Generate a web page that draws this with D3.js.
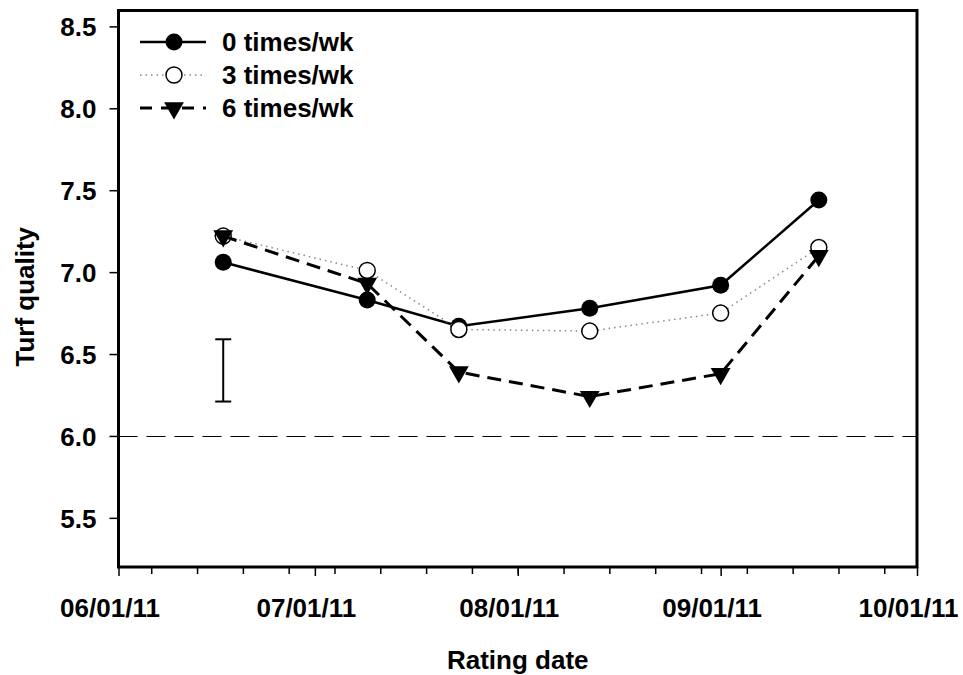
<!DOCTYPE html>
<html>
<head>
<meta charset="utf-8">
<script src="https://cdn.jsdelivr.net/npm/d3@7"></script>
<style>
  body { margin: 0; background: #fff; }
  text { font-family: "Liberation Sans", Arial, sans-serif; font-weight: bold; fill: #000; }
</style>
</head>
<body>
<svg width="963" height="675"></svg>
<script>
const svg = d3.select("svg");

// data
const dates = ["2011-06-17", "2011-07-09", "2011-07-23", "2011-08-12", "2011-09-01", "2011-09-16"];
const times0 = [7.06, 6.83, 6.67, 6.78, 6.92, 7.44];
const times3 = [7.22, 7.01, 6.65, 6.64, 6.75, 7.15];
const times6 = [7.22, 6.93, 6.39, 6.24, 6.38, 7.10];
const seriesNames = ["0 times/wk", "3 times/wk", "6 times/wk"];
const monthTicks = ["2011-06-01", "2011-07-01", "2011-08-01", "2011-09-01", "2011-10-01"];
const yTicks = [5.5, 6.0, 6.5, 7.0, 7.5, 8.0, 8.5];
const lsd = { date: "2011-06-17", low: 6.21, high: 6.59 };
const refLine = 6.0;

const parse = d3.utcParse("%Y-%m-%d");
const fmt = d3.utcFormat("%m/%d/%y");

const pLeft = 118.5, pRight = 917, pTop = 10.5, pBottom = 567;
const fs = 26;

const x = d3.scaleUtc()
    .domain([parse("2011-06-01"), parse("2011-10-01")])
    .range([pLeft, pRight]);
const y = d3.scaleLinear()
    .domain([5.2, 8.6])
    .range([pBottom, pTop - 0.5]);

// dashed reference line
const ry = Math.round(y(refLine)) + 0.5;
svg.append("line")
    .attr("x1", pLeft).attr("x2", pRight)
    .attr("y1", ry).attr("y2", ry)
    .attr("stroke", "#000").attr("stroke-width", 1)
    .attr("stroke-dasharray", "19,9");

// x axis: weekly minor ticks (Mondays), monthly majors
const minor = d3.utcMonday.range(parse("2011-06-01"), parse("2011-10-01"));
svg.append("g")
    .attr("transform", `translate(0,${pBottom})`)
    .call(d3.axisBottom(x).tickValues(minor).tickSize(7).tickSizeOuter(0).tickFormat(""))
    .call(g => g.select(".domain").remove())
    .call(g => g.selectAll("line").attr("stroke-width", 1.5));

svg.append("g")
    .attr("transform", `translate(0,${pBottom})`)
    .call(d3.axisBottom(x).tickValues(monthTicks.map(parse)).tickSize(9).tickSizeOuter(0).tickFormat(fmt))
    .call(g => g.select(".domain").remove())
    .call(g => g.selectAll("line").attr("stroke-width", 1.5))
    .call(g => g.selectAll("text")
        .attr("font-size", fs).attr("font-family", "Liberation Sans, Arial, sans-serif")
        .attr("font-weight", "bold").attr("fill", "#000")
        .attr("dx", -9).attr("y", 50).attr("dy", 0));

// y axis
svg.append("g")
    .attr("transform", `translate(${pLeft},0)`)
    .call(d3.axisLeft(y).tickValues(yTicks).tickSize(9).tickSizeOuter(0).tickFormat(d3.format(".1f")))
    .call(g => g.select(".domain").remove())
    .call(g => g.selectAll("line").attr("stroke-width", 1.5))
    .call(g => g.selectAll("text")
        .attr("font-size", fs).attr("font-family", "Liberation Sans, Arial, sans-serif")
        .attr("font-weight", "bold").attr("fill", "#000")
        .attr("x", -22).attr("dy", "0.36em"));

// frame
svg.append("rect")
    .attr("x", pLeft).attr("y", pTop)
    .attr("width", pRight - pLeft).attr("height", pBottom - pTop)
    .attr("fill", "none").attr("stroke", "#000").attr("stroke-width", 3);

// axis titles
svg.append("text")
    .attr("x", (pLeft + pRight) / 2).attr("y", 669)
    .attr("text-anchor", "middle").attr("font-size", fs)
    .text("Rating date");
svg.append("text")
    .attr("transform", `translate(34,${(pTop + pBottom) / 2 + 8}) rotate(-90)`)
    .attr("text-anchor", "middle").attr("font-size", fs)
    .text("Turf quality");

// LSD bar
const ex = x(parse(lsd.date));
const eb = svg.append("g").attr("stroke", "#000").attr("stroke-width", 2);
eb.append("line").attr("x1", ex).attr("x2", ex).attr("y1", y(lsd.low)).attr("y2", y(lsd.high));
eb.append("line").attr("x1", ex - 8).attr("x2", ex + 8).attr("y1", y(lsd.low)).attr("y2", y(lsd.low));
eb.append("line").attr("x1", ex - 8).attr("x2", ex + 8).attr("y1", y(lsd.high)).attr("y2", y(lsd.high));

const styles = [
  { values: times0, stroke: "#000", width: 2.5, dash: null, marker: "filled" },
  { values: times3, stroke: "#888", width: 1.5, dash: "1.5,4", marker: "open" },
  { values: times6, stroke: "#000", width: 3, dash: "14,8", marker: "tri" }
];

const tri = d3.symbol().type(d3.symbolTriangle).size(170);

function drawMarker(g, kind, cx, cy) {
  if (kind === "filled") {
    g.append("circle").attr("cx", cx).attr("cy", cy).attr("r", 8.5).attr("fill", "#000");
  } else if (kind === "open") {
    g.append("circle").attr("cx", cx).attr("cy", cy).attr("r", 8)
        .attr("fill", "#fff").attr("stroke", "#000").attr("stroke-width", 1.5);
  } else {
    g.append("path").attr("d", tri)
        .attr("transform", `translate(${cx},${cy}) rotate(180)`)
        .attr("fill", "#000");
  }
}

const line = d3.line().x(d => x(d[0])).y(d => y(d[1]));

styles.forEach(s => {
  const pts = dates.map((d, i) => [parse(d), s.values[i]]);
  const g = svg.append("g");
  g.append("path")
      .attr("d", line(pts))
      .attr("fill", "none").attr("stroke", s.stroke)
      .attr("stroke-width", s.width)
      .attr("stroke-dasharray", s.dash);
  pts.forEach(p => drawMarker(g, s.marker, x(p[0]), y(p[1])));
});

// legend
const legendY = [42, 75, 108];
styles.forEach((s, i) => {
  const g = svg.append("g");
  const ly = legendY[i];
  g.append("line")
      .attr("x1", 140).attr("x2", 206).attr("y1", ly).attr("y2", ly)
      .attr("stroke", s.stroke).attr("stroke-width", s.width)
      .attr("stroke-dasharray", s.dash ? (s.marker === "tri" ? "12,9" : s.dash) : null);
  drawMarker(g, s.marker, 174, ly);
  g.append("text")
      .attr("x", 222).attr("y", ly + 9)
      .attr("font-size", fs)
      .text(seriesNames[i]);
});
</script>
</body>
</html>
